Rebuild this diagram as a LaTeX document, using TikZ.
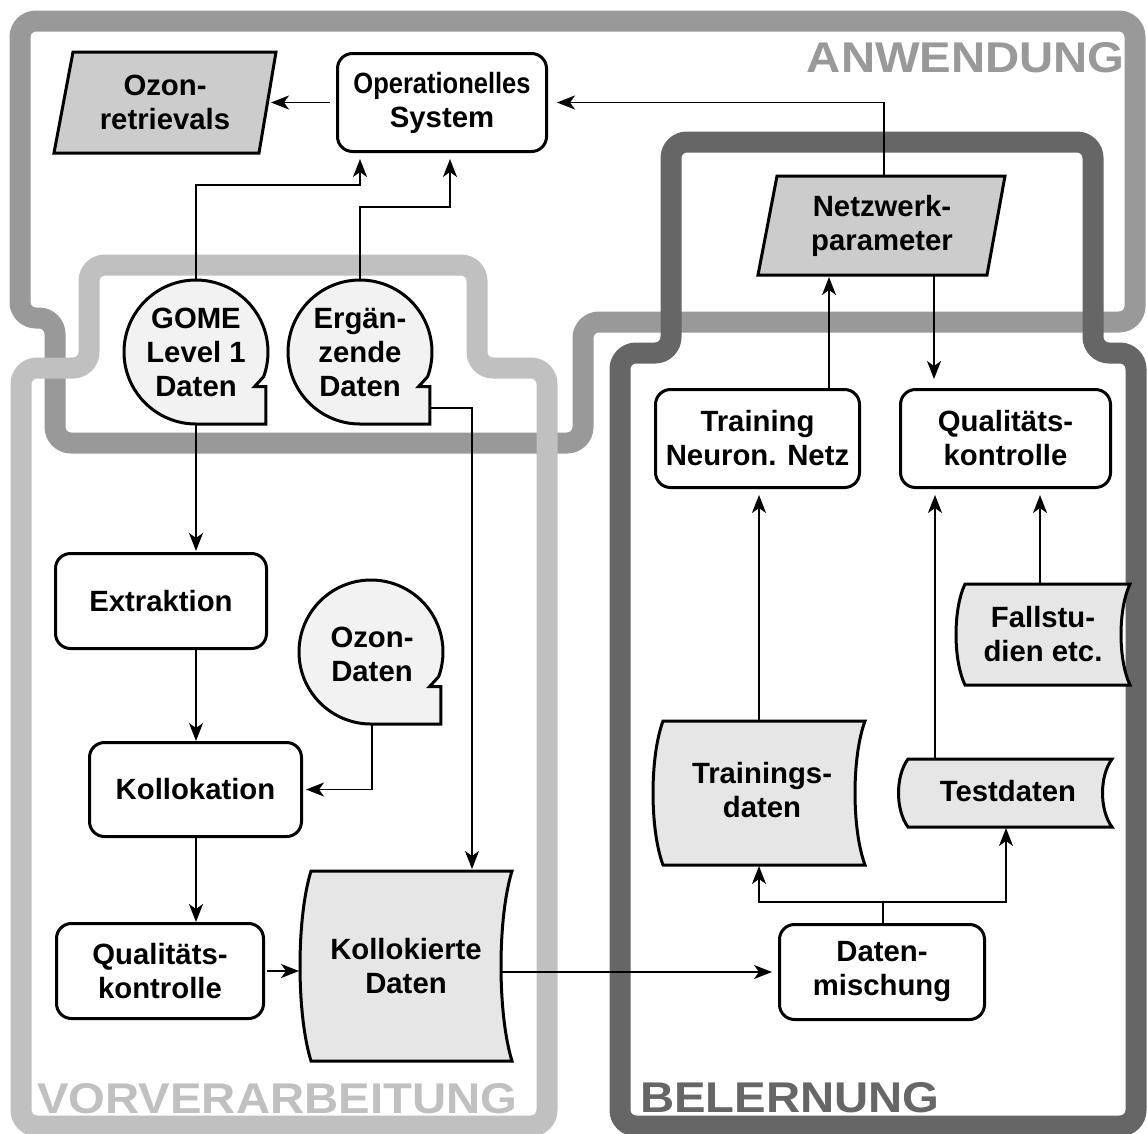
\documentclass[tikz,border=0pt]{standalone}
\usepackage{fontspec}
\usepackage{graphicx}
\setmainfont{Liberation Sans}
\usetikzlibrary{arrows.meta,calc}
\definecolor{anwc}{HTML}{999999}
\definecolor{vorc}{HTML}{C0C0C0}
\definecolor{belc}{HTML}{666666}
\definecolor{parfill}{HTML}{CCCCCC}
\definecolor{docfill}{HTML}{E6E6E6}
\definecolor{tapefill}{HTML}{F2F2F2}
\newcommand\nodefont{\bfseries\fontsize{29.3}{34}\selectfont}
\newcommand\lblfont{\bfseries\fontsize{43}{43}\selectfont}
\newcommand\tapeshape[2]{\draw[shp, fill=tapefill] (#1,{#2+72}) arc[start angle=90, end angle=380, radius=72] -- ++(-9.2,10.1) -- ++(11.5,0) -- ++(0,37.3) -- cycle;}
\newcommand\bowdoc[5]{\draw[shp, fill=docfill] (#1,#3) -- (#2,#3) .. controls ({#2-1.333*#5},{#3+(#4-#3)/4}) and ({#2-1.333*#5},{#4-(#4-#3)/4}) .. (#2,#4) -- (#1,#4) .. controls ({#1-1.333*#5},{#4-(#4-#3)/4}) and ({#1-1.333*#5},{#3+(#4-#3)/4}) .. (#1,#3) -- cycle;}
\begin{document}
\begin{tikzpicture}[x=1pt,y=-1pt,
  band/.style={line width=21pt, rounded corners=16pt},
  box/.style={draw, line width=3pt, rounded corners=15pt, fill=white, align=center, inner sep=0pt, font=\nodefont},
  txt/.style={align=center, inner sep=0pt, font=\nodefont},
  shp/.style={draw, line width=3pt, line join=miter},
  arr/.style={line width=1.8pt, -{Stealth[length=18pt,width=14pt,inset=5pt]}},
  lbl/.style={font=\lblfont, inner sep=0pt}
]
\useasboundingbox (0,0) rectangle (1147,1133);
\fill[white] (0,0) rectangle (1147,1133);

% region bands
\draw[band, anwc] (20,150) -- (20,21) -- (1135,21) -- (1135,322) -- (583,322) -- (583,443) -- (55,443) -- (55,318) -- (20,318) -- cycle;
\draw[band, vorc] (21,700) -- (21,368) -- (89,368) -- (89,265) -- (477,265) -- (477,368) -- (547,368) -- (547,1126) -- (21,1126) -- cycle;
\draw[band, belc] (620,700) -- (620,353) -- (671,353) -- (671,142) -- (1093,142) -- (1093,353) -- (1136,353) -- (1136,1126) -- (620,1126) -- cycle;

% region labels
\node[lbl, text=anwc, anchor=base east] (lanw) at (1125,72) {\scalebox{1.1}[1]{ANWENDUNG}};
\node[lbl, text=vorc, anchor=base west] (lvor) at (37,1113) {\scalebox{1.1}[1]{VORVERARBEITUNG}};
\node[lbl, text=belc, anchor=base west] (lbel) at (640,1112) {\scalebox{1.1}[1]{BELERNUNG}};

% parallelograms
\draw[shp, fill=parfill] (73,52) -- (276,52) -- (259,153) -- (54,153) -- cycle;
\node[txt] (ozret) at (165,102.5) {Ozon-\\retrievals};
\draw[shp, fill=parfill] (777,176) -- (1005,176) -- (987,275) -- (758,275) -- cycle;
\node[txt] (netz) at (882,225.5) {Netzwerk-\\parameter};

% boxes
\node[box, minimum width=209pt, minimum height=98pt] (opsys) at (442,102.5) {\scalebox{0.87}[1]{Operationelles}\\System};
\node[box, minimum width=211pt, minimum height=95pt] (extr) at (161,601) {Extraktion};
\node[box, minimum width=212pt, minimum height=94pt] (koll) at (195.5,789.5) {Kollokation};
\node[box, minimum width=207pt, minimum height=95pt] (qualL) at (160,971) {Qualitäts-\\kontrolle};
\node[box, minimum width=205pt, minimum height=95pt] (dm) at (882,972) {Daten-\\mischung};
\node[box, minimum width=204pt, minimum height=98pt] (train) at (757.5,438.5) {Training\\Neuron. Netz};
\node[box, minimum width=210pt, minimum height=98pt] (qualR) at (1005.5,438.5) {Qualitäts-\\kontrolle};

% tape (circle) stores
\tapeshape{196}{352}
\node[txt] (gome) at (196,352) {GOME\\Level 1\\Daten};
\tapeshape{360}{352}
\node[txt] (erg) at (360,352) {Ergän-\\zende\\Daten};
\tapeshape{371}{652}
\node[txt] (ozd) at (372,654) {Ozon-\\Daten};

% documents
\bowdoc{311}{512}{871}{1061}{11}
\node[txt] (kolld) at (406,966) {Kollokierte\\Daten};
\bowdoc{663}{865}{721}{865}{10}
\node[txt] (trd) at (762,790) {Trainings-\\daten};
\bowdoc{908}{1112}{759}{827}{9.5}
\node[txt] (tsd) at (1008,791) {Testdaten};
\bowdoc{965}{1130}{584}{685}{9}
\node[txt] (fall) at (1043,634) {Fallstu-\\dien etc.};

% connection points
\coordinate (ozretE) at (271,102.5);
\coordinate (opW) at (330,102.5);
\coordinate (opE) at (557,102.5);
\coordinate (opA) at (360,159);
\coordinate (opB) at (450,159);
\coordinate (gomeT) at (196,280);
\coordinate (gomeB) at (196,424);
\coordinate (ergT) at (360,280);
\coordinate (ergR) at (430,408);
\coordinate (ozdB) at (372,724);
\coordinate (extrN) at (196,551);
\coordinate (extrS) at (196,650);
\coordinate (kollN) at (196,741);
\coordinate (kollS) at (196,838);
\coordinate (kollE) at (306,789.5);
\coordinate (qualLN) at (196,922);
\coordinate (qualLE) at (267,971);
\coordinate (kolldT) at (472,869);
\coordinate (kolldW) at (299,971);
\coordinate (kolldE) at (501,972);
\coordinate (dmW) at (772,972);
\coordinate (dmN) at (883,923);
\coordinate (trdT) at (759,721);
\coordinate (trdB) at (759,866);
\coordinate (tsdT) at (935,759);
\coordinate (tsdB) at (1006,828);
\coordinate (fallT) at (1040,584);
\coordinate (trainS) at (759,495);
\coordinate (qualRS1) at (935,495);
\coordinate (qualRS2) at (1040,495);
\coordinate (trainN) at (829,388);
\coordinate (netzB1) at (829,277);
\coordinate (netzB2) at (934,275);
\coordinate (netzT) at (884,176);
\coordinate (qualRN) at (934,379);

% connectors
\draw[arr] (opW) -- (ozretE);
\draw[arr] (netzT) |- (opE);
\draw[arr] (gomeT) -- ++(0,-95) -| (opA);
\draw[arr] (ergT) -- ++(0,-73) -| (opB);
\draw[arr] (ergR) -| (kolldT);
\draw[arr] (gomeB) -- (extrN);
\draw[arr] (extrS) -- (kollN);
\draw[arr] (kollS) -- (qualLN);
\draw[arr] (ozdB) |- (kollE);
\draw[arr] (qualLE) -- (kolldW);
\draw[arr] (kolldE) -- (dmW);
\draw[arr] (dmN) -- ++(0,-21) -| (trdB);
\draw[arr] (dmN) -- ++(0,-21) -| (tsdB);
\draw[arr] (trdT) -- (trainS);
\draw[arr] (tsdT) -- (qualRS1);
\draw[arr] (fallT) -- (qualRS2);
\draw[arr] (trainN) -- (netzB1);
\draw[arr] (netzB2) -- (qualRN);
\end{tikzpicture}
\end{document}
